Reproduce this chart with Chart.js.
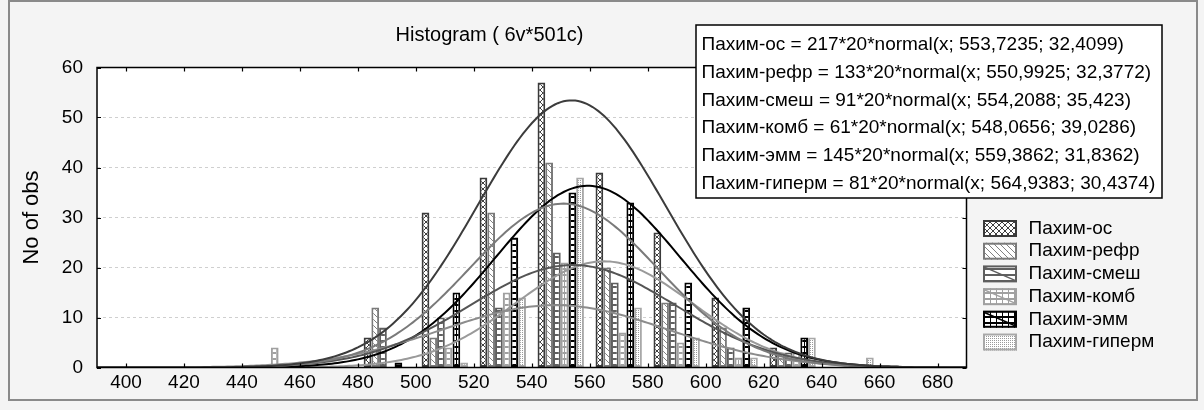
<!DOCTYPE html>
<html><head><meta charset="utf-8">
<script src="https://cdn.jsdelivr.net/npm/chart.js@4.4.1/dist/chart.umd.min.js"></script>
<style>html,body{margin:0;padding:0;background:#f4f4f4;}canvas{display:block}</style>
</head><body>
<canvas id="c" width="1204" height="410"></canvas>
<script>
// ---- data ----
const titleText = 'Histogram ( 6v*501c)';
const yTitle = 'No of obs';
const seriesNames = ['Пахим-ос','Пахим-рефр','Пахим-смеш','Пахим-комб','Пахим-эмм','Пахим-гиперм'];
const binCenters   = [450,470,490,510,530,550,570,590,610,630,650,670];
const osCounts     = [0,0,6,31,38,57,39,27,14,4,0,0];
const refrCounts   = [0,0,12,6,31,41,20,13,8,3,0,0];
const smeshCounts  = [0,0,8,10,12,23,17,13,4,3,0,0];
const kombCounts   = [4,0,0,4,15,21,7,5,2,3,0,0];
const emmCounts    = [0,0,1,15,26,35,33,17,12,6,0,0];
const gipermCounts = [0,0,0,1,14,38,12,6,2,6,2,0];
// fitted normal curves, as printed in the box: N*20*normal(x; mean; sd)
const fitN    = [217,133,91,61,145,81];
const fitMean = [553.7235,550.9925,554.2088,548.0656,559.3862,564.9383];
const fitSd   = [32.4099,32.3772,35.423,39.0286,31.8362,30.4374];
const binWidth = 20;
const fitLabels = [
  'Пахим-ос = 217*20*normal(x; 553,7235; 32,4099)',
  'Пахим-рефр = 133*20*normal(x; 550,9925; 32,3772)',
  'Пахим-смеш = 91*20*normal(x; 554,2088; 35,423)',
  'Пахим-комб = 61*20*normal(x; 548,0656; 39,0286)',
  'Пахим-эмм = 145*20*normal(x; 559,3862; 31,8362)',
  'Пахим-гиперм = 81*20*normal(x; 564,9383; 30,4374)'
];
const xTicks = [400,420,440,460,480,500,520,540,560,580,600,620,640,660,680];
const yTicks = [0,10,20,30,40,50,60];

// ---- styling ----
const FONT = '"Liberation Sans", Arial, sans-serif';
Chart.defaults.font.family = FONT;
Chart.defaults.color = '#000';
const allCounts = [osCounts, refrCounts, smeshCounts, kombCounts, emmCounts, gipermCounts];
const barBorder = ['#3a3a3a','#7a7a7a','#5e5e5e','#a0a0a0','#000000','#a8a8a8'];
const lineColor = ['#3c3c3c','#7a7a7a','#555555','#8c8c8c','#000000','#9a9a9a'];
const legendDiag = [false,false,true,true,true,false];

function makePattern(kind, color){
  const c = document.createElement('canvas');
  const s = kind === 'dots' ? 4 : 6;
  c.width = s; c.height = s;
  const g = c.getContext('2d');
  g.fillStyle = '#fff'; g.fillRect(0,0,s,s);
  g.strokeStyle = color; g.fillStyle = color; g.lineWidth = 1;
  if (kind === 'cross') {
    g.beginPath(); g.moveTo(0,0); g.lineTo(s,s); g.moveTo(s,0); g.lineTo(0,s); g.stroke();
  } else if (kind === 'diag') {
    g.beginPath(); g.moveTo(0,0); g.lineTo(s,s); g.moveTo(-1,s-1); g.lineTo(1,s+1); g.moveTo(s-1,-1); g.lineTo(s+1,1); g.stroke();
  } else if (kind === 'hl') {
    g.fillRect(0,s-2,s,2);
  } else if (kind === 'grid') {
    g.fillRect(0,s-2,s,2); g.fillRect(0,0,1,s);
  } else if (kind === 'dots') {
    g.fillRect(0,0,1,1); g.fillRect(2,2,1,1); g.fillRect(2,0,1,1); g.fillRect(0,2,1,1);
  }
  return document.createElement('canvas').getContext('2d').createPattern(c,'repeat');
}
const patterns = [
  makePattern('cross','#404040'),
  makePattern('diag','#808080'),
  makePattern('hl','#606060'),
  makePattern('grid','#a0a0a0'),
  makePattern('grid','#000000'),
  makePattern('dots','#9a9a9a')
];

// fitted curves sampled over the axis range
function fitCurve(i){
  const pts = [];
  for (let x = 390; x <= 690; x += 1) {
    const z = (x - fitMean[i]) / fitSd[i];
    pts.push({x, y: fitN[i]*binWidth*Math.exp(-0.5*z*z)/(fitSd[i]*Math.sqrt(2*Math.PI))});
  }
  return pts;
}

const datasets = [];
for (let i = 0; i < 6; i++) {
  datasets.push({type:'line', label:'fit'+i, data: fitCurve(i), borderColor: lineColor[i],
    borderWidth: 2, pointRadius: 0, tension: 0, order: 0, fill:false});
}
for (let i = 0; i < 6; i++) {
  datasets.push({type:'bar', label: seriesNames[i],
    data: binCenters.map((x,j)=>({x, y: allCounts[i][j]})),
    backgroundColor: patterns[i], borderColor: barBorder[i], borderWidth: 2,
    borderSkipped: false, barPercentage: 1.0, categoryPercentage: 0.8, order: 1});
}

const deco = {
  id: 'deco',
  beforeDraw(chart){
    const {ctx, chartArea: a} = chart;
    ctx.save();
    ctx.fillStyle = '#f4f4f4'; ctx.fillRect(0,0,chart.width,chart.height);
    ctx.fillStyle = '#ffffff'; ctx.fillRect(a.left, a.top, a.right-a.left, a.bottom-a.top);
    ctx.strokeStyle = '#8a8a8a'; ctx.lineWidth = 2; ctx.strokeRect(9,1,1188,399);
    ctx.fillStyle = '#000'; ctx.font = '20px ' + FONT; ctx.textAlign = 'center'; ctx.textBaseline = 'middle';
    ctx.fillText(titleText, 489.5, 35);
    ctx.restore();
  },
  afterDatasetsDraw(chart){
    const {ctx, chartArea: a, scales} = chart;
    ctx.save();
    // plot frame
    ctx.strokeStyle = '#000'; ctx.lineWidth = 1.5;
    ctx.strokeRect(a.left, a.top, a.right-a.left, a.bottom-a.top);
    // inward ticks on all four sides
    ctx.lineWidth = 1.2;
    ctx.beginPath();
    xTicks.forEach(v => { const p = Math.round(scales.x.getPixelForValue(v))+0.5;
      ctx.moveTo(p, a.bottom); ctx.lineTo(p, a.bottom-4); ctx.moveTo(p, a.top); ctx.lineTo(p, a.top+4); });
    yTicks.forEach(v => { const p = Math.round(scales.y.getPixelForValue(v))+0.5;
      ctx.moveTo(a.left, p); ctx.lineTo(a.left+4, p); ctx.moveTo(a.right, p); ctx.lineTo(a.right-4, p); });
    ctx.stroke();
    // equation box
    ctx.fillStyle = '#fff'; ctx.fillRect(696, 25, 466, 173);
    ctx.strokeStyle = '#000'; ctx.lineWidth = 1.5; ctx.strokeRect(696, 25, 466, 173);
    ctx.fillStyle = '#000'; ctx.font = '19px ' + FONT; ctx.textAlign = 'left'; ctx.textBaseline = 'middle';
    fitLabels.forEach((t,i) => ctx.fillText(t, 701.5, 45 + i*27.67));
    // legend
    seriesNames.forEach((n,i) => {
      const cy = 228.5 + i*22.7;
      ctx.fillStyle = patterns[i]; ctx.fillRect(983, cy-8.5, 34, 17);
      ctx.strokeStyle = barBorder[i]; ctx.lineWidth = 2; ctx.strokeRect(984, cy-7.5, 32, 15);
      if (legendDiag[i]) { ctx.beginPath(); ctx.moveTo(985, cy-6.5); ctx.lineTo(1015, cy+6.5); ctx.lineWidth = 1.5; ctx.stroke(); }
      ctx.fillStyle = '#000'; ctx.font = '19px ' + FONT; ctx.textAlign = 'left'; ctx.textBaseline = 'middle';
      ctx.fillText(n, 1028.5, cy);
    });
    ctx.restore();
  }
};

new Chart(document.getElementById('c'), {
  type: 'bar',
  data: { datasets },
  options: {
    responsive: false, animation: false, devicePixelRatio: 1,
    layout: { padding: { top: 67.5, right: 237.5, left: 0, bottom: 0 } },
    plugins: { legend: { display: false }, tooltip: { enabled: false }, title: { display: false } },
    scales: {
      x: { type: 'linear', min: 390, max: 690, offset: false,
        afterBuildTicks: s => { s.ticks = xTicks.map(v => ({value: v})); },
        afterFit: s => { s.height = 42.5; },
        grid: { display: false, drawTicks: false }, border: { display: false },
        ticks: { font: { size: 19 }, color: '#000', padding: 4, maxRotation: 0, autoSkip: false } },
      y: { type: 'linear', min: 0, max: 60,
        afterBuildTicks: s => { s.ticks = yTicks.map(v => ({value: v})); },
        afterFit: s => { s.width = 97; },
        grid: { color: '#cfcfcf', lineWidth: 1, drawTicks: false }, border: { display: false, dash: [3,3] },
        ticks: { font: { size: 19 }, color: '#000', padding: 14 },
        title: { display: true, text: yTitle, font: { size: 22 }, color: '#000', padding: { top: 18.5, bottom: 0 } } }
    }
  },
  plugins: [deco]
});
</script>
</body></html>
